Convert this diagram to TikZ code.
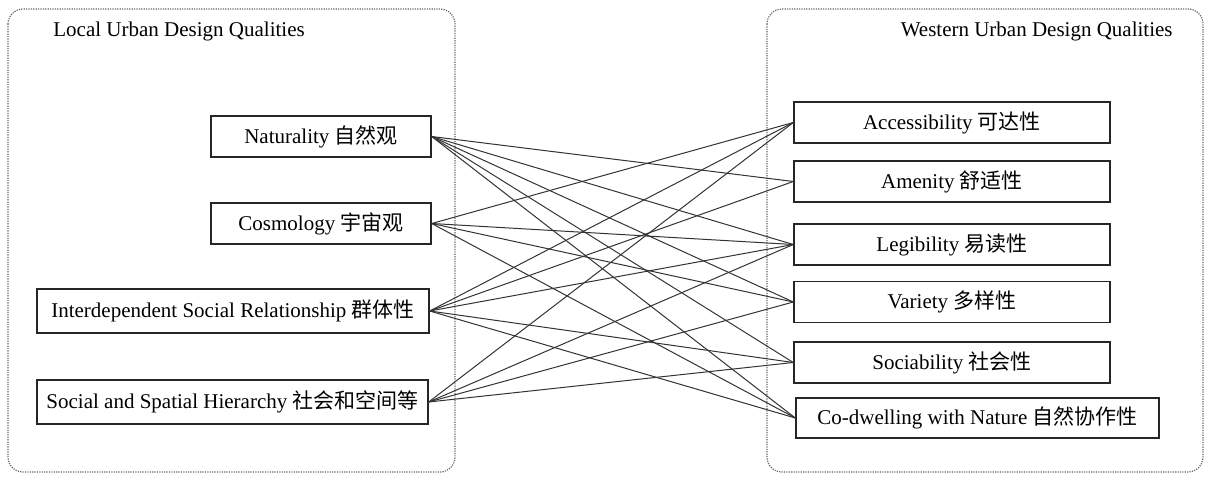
\documentclass[tikz,border=0pt]{standalone}
\usepackage{fontspec}
\setmainfont{Liberation Serif}
\newfontfamily\cjk{Noto Sans CJK SC}
\begin{document}
\begin{tikzpicture}[x=0.5pt,y=-0.5pt,
  box/.style={draw=black!85, line width=0.7pt, rectangle, inner sep=0pt, font=\fontsize{10.5}{12}\selectfont},
  link/.style={draw=black!80, line width=0.5pt},
  group/.style={draw=black!60, dash pattern=on 0.6pt off 0.6pt, line width=0.6pt, rounded corners=7.5pt},
  title/.style={font=\fontsize{10.5}{12}\selectfont, inner sep=0pt}]
\useasboundingbox (0,0) rectangle (1206,482);
% containers
\draw[group] (8,9) rectangle (455,472);
\draw[group] (767,9) rectangle (1203,472);
\node[title, anchor=west] (ltitle) at (53,31) {Local Urban Design Qualities};
\node[title, anchor=east] (rtitle) at (1173,31) {Western Urban Design Qualities};
% left nodes
\node[box, minimum width=110pt, minimum height=20.5pt] (N) at (321,136.5) {Naturality {\cjk 自然观}};
\node[box, minimum width=110pt, minimum height=20.5pt] (C) at (321,223.5) {Cosmology {\cjk 宇宙观}};
\node[box, minimum width=196pt, minimum height=22pt] (I) at (233,311) {Interdependent Social Relationship {\cjk 群体性}};
\node[box, minimum width=195.5pt, minimum height=22pt] (S) at (232.5,402) {Social and Spatial Hierarchy {\cjk 社会和空间等}};
% right nodes
\node[box, minimum width=158pt, minimum height=20.5pt] (Acc) at (952,122.5) {Accessibility {\cjk 可达性}};
\node[box, minimum width=158pt, minimum height=20.5pt] (Am) at (952,181.5) {Amenity {\cjk 舒适性}};
\node[box, minimum width=158pt, minimum height=20.5pt] (Leg) at (952,244.5) {Legibility {\cjk 易读性}};
\node[box, minimum width=158pt, minimum height=20.5pt] (Var) at (952,302) {Variety {\cjk 多样性}};
\node[box, minimum width=158pt, minimum height=20.5pt] (Soc) at (952,362.5) {Sociability {\cjk 社会性}};
\node[box, minimum width=181.5pt, minimum height=20pt] (Co) at (977.5,418) {Co-dwelling with Nature {\cjk 自然协作性}};
% links
\foreach \t in {Am,Leg,Var,Soc,Co} \draw[link] (N.east) -- (\t.west);
\foreach \t in {Acc,Leg,Var,Co} \draw[link] (C.east) -- (\t.west);
\foreach \t in {Acc,Am,Leg,Soc,Co} \draw[link] (I.east) -- (\t.west);
\foreach \t in {Acc,Leg,Var,Soc} \draw[link] (S.east) -- (\t.west);
\end{tikzpicture}
\end{document}
